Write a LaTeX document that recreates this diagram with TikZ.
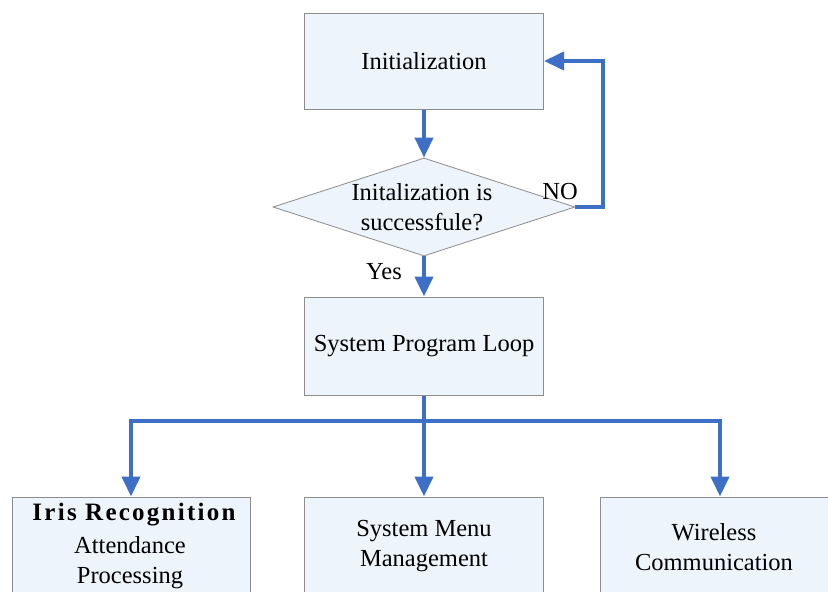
\documentclass[tikz,border=0pt]{standalone}
\usepackage{fontspec}
\setmainfont{Liberation Serif}
\usetikzlibrary{arrows.meta,shapes.geometric}
\definecolor{boxfill}{HTML}{EEF4FC}
\definecolor{boxline}{HTML}{8C8C8C}
\definecolor{arrowblue}{HTML}{3D6FC6}
\begin{document}
\begin{tikzpicture}[x=1pt,y=-1pt,
  box/.style={draw=boxline, fill=boxfill, line width=1pt, minimum width=239pt, minimum height=96pt, inner sep=0pt, align=center, font=\fontsize{24.5}{30}\selectfont},
  decision/.style={diamond, draw=boxline, fill=boxfill, line width=0.8pt, minimum width=302pt, minimum height=98pt, inner sep=0pt},
  txt/.style={align=center, font=\fontsize{24.5}{30}\selectfont, inner sep=0pt},
  flow/.style={draw=arrowblue, line width=4pt},
  arr/.style={flow, -{Triangle[width=18pt,length=20pt]}}]
\clip (0,0) rectangle (828,592);
\fill[white] (0,0) rectangle (828,592);
% nodes
\node[box] (init) at (424,61) {Initialization};
\node[decision] (dia) at (424,207) {};
\node[txt] (diatext) at (422,207) {Initalization is\\successfule?};
\node[box, minimum height=98pt] (spl) at (424,346) {System Program Loop};
\node[box, minimum height=98pt, minimum width=238pt] (iris) at (131,546) {};
\node[txt, font=\fontsize{25}{30}\selectfont\bfseries\addfontfeature{LetterSpace=9}] (iristitle) at (134,515) {Iris Recognition};
\node[txt] (irissub) at (130,563) {Attendance\\Processing};
\node[box, minimum height=98pt] (menu) at (424,546) {System Menu\\Management};
\node[box, minimum height=98pt, minimum width=240pt] (wire) at (720,546) {};
\node[txt] (wiretext) at (714,547) {Wireless\\Communication};
\node[txt] (yes) at (384,272) {Yes};
\node[txt] (no) at (560,192) {NO};
\coordinate (branch) at (424,421);
% connectors
\draw[arr] (init.south) -- (dia.north);
\draw[arr] (dia.east) -- ++(28,0) |- (init.east);
\draw[arr] (dia.south) -- (spl.north);
\draw[flow] (spl.south) -- (branch);
\draw[arr] (branch) -| (iris.north);
\draw[arr] (branch) -- (menu.north);
\draw[arr] (branch) -| (wire.north);
\end{tikzpicture}
\end{document}
